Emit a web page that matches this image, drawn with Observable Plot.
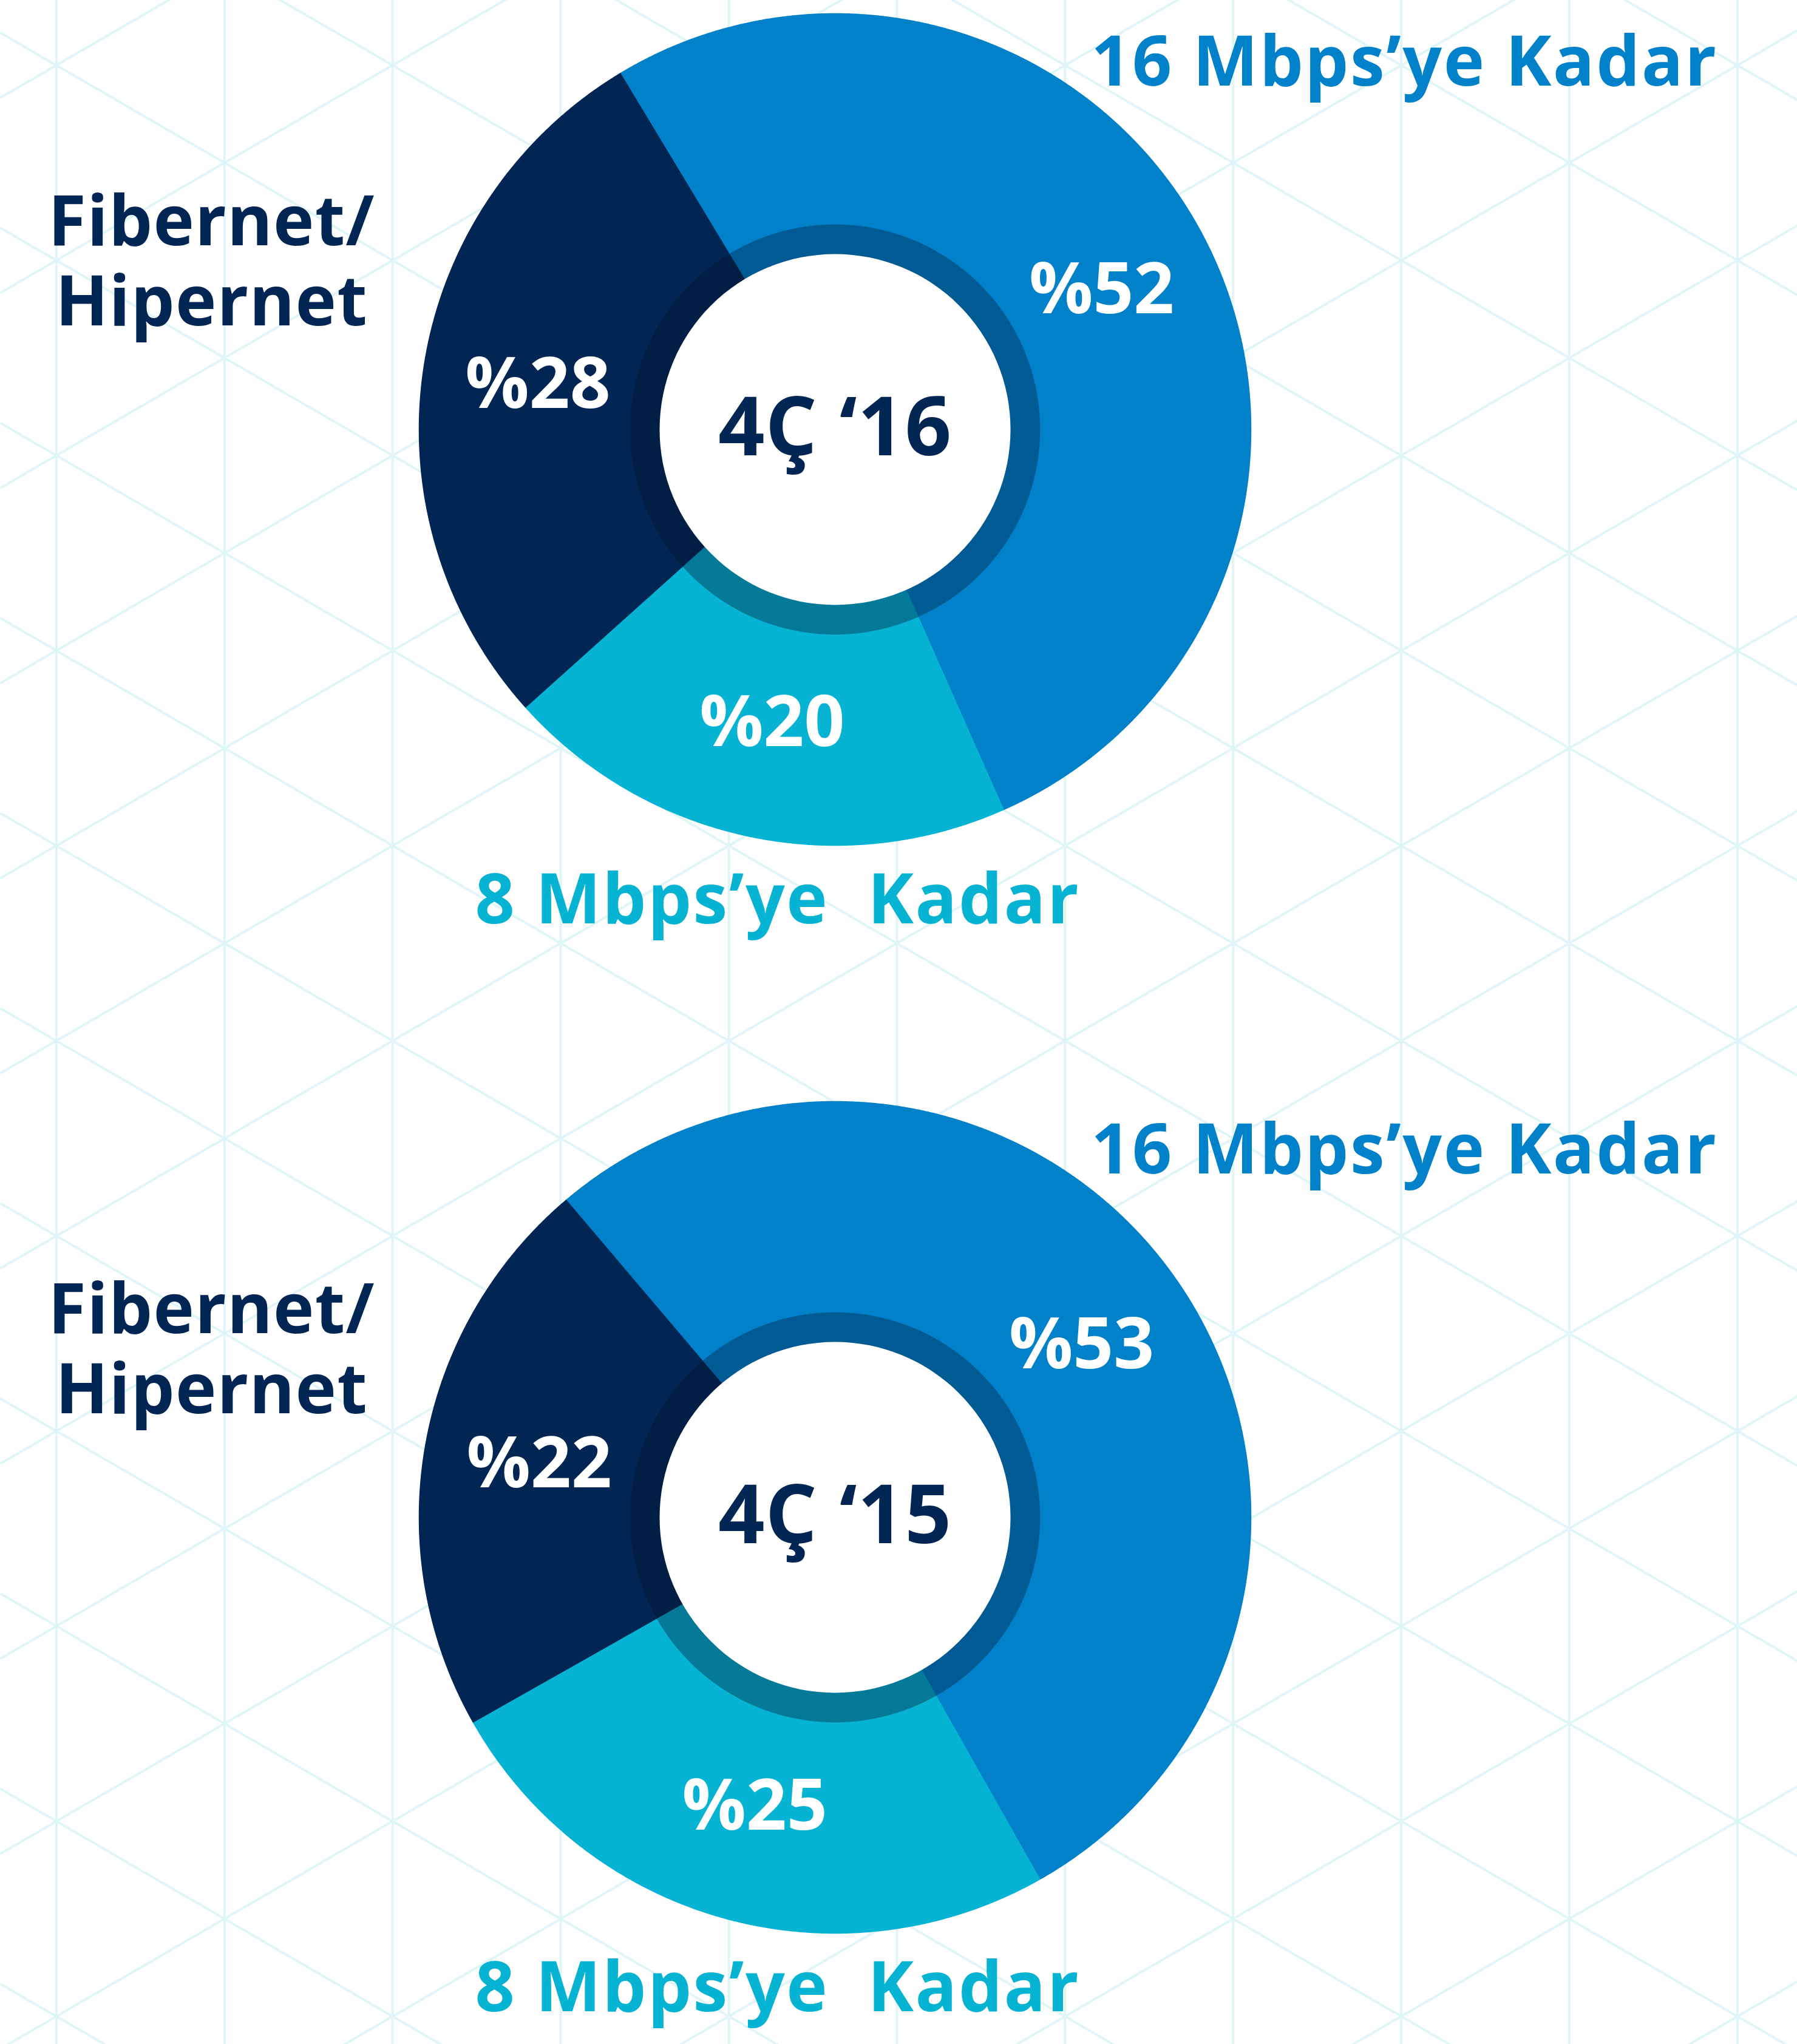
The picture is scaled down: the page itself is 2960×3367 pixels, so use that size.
<!DOCTYPE html>
<html>
<head>
<meta charset="utf-8">
<script src="https://cdn.jsdelivr.net/npm/d3@7"></script>
<script src="https://cdn.jsdelivr.net/npm/@observablehq/plot@0.6"></script>
<style>
  html, body { margin: 0; padding: 0; background: #ffffff; }
  #chart svg { display: block; }
  #chart g.cat text { letter-spacing: 2.5px; }
  #chart g.cat2 text { letter-spacing: 1.2px; }
  #chart g.ctr text { letter-spacing: 1px; }
</style>
</head>
<body>
<div id="chart"></div>
<script>
// ---- data ----
const periods = ["4Ç ‘16", "4Ç ‘15"];
const categories = ["16 Mbps’ye Kadar", "8 Mbps’ye  Kadar", "Fibernet/\nHipernet"];
const share2016 = [52, 20, 28];
const share2015 = [53, 25, 22];
const seriesByPeriod = [share2016, share2015];

// ---- style / layout ----
const W = 2960, H = 3367;
const sliceColors = ["#0081c9", "#06b3d3", "#022654"];
const innerColors = ["#005b94", "#047a98", "#011f45"];
const gridColor = "#e0f5f8";
const donutLayout = [
  {cx: 1375, cy: 707, startDeg: -31.1},
  {cx: 1375, cy: 2499, startDeg: -40.3}
];
const R = 685, ringR = 337, holeR = 289, labelR = 495;
const catLabelLayout = [
  {dx: 1454, dy: -567, anchor: "end", cls: "cat"},
  {dx: -593, dy: 813, anchor: "start", cls: "cat"},
  {dx: -1027, dy: -172, anchor: "middle", cls: "cat2"}
];
const font = "'Open Sans', 'Noto Sans', sans-serif";

// ---- background triangular grid ----
const gx0 = 92.4, gStep = 276.9, gy0 = 107, gPeriod = 321.4, gSlope = (gPeriod / 2) / gStep;
const gridXs = d3.range(gx0, W + 1, gStep);
const diagonals = [];
for (let k = -14; k <= 16; k++) {
  for (const s of [gSlope, -gSlope]) {
    diagonals.push({
      x1: 0, y1: gy0 + s * (0 - gx0) + k * gPeriod,
      x2: W, y2: gy0 + s * (W - gx0) + k * gPeriod
    });
  }
}

// ---- donut geometry built from the data ----
const wedges = [];
const pctLabels = [];
const centerLabels = [];
const catLabels = [];
periods.forEach((period, pi) => {
  const {cx, cy, startDeg} = donutLayout[pi];
  const a0 = startDeg * Math.PI / 180;
  const arcs = d3.pie().sort(null).startAngle(a0).endAngle(a0 + 2 * Math.PI)(seriesByPeriod[pi]);
  arcs.forEach((a, ci) => {
    for (const [layer, r, color] of [["outer", R, sliceColors[ci]], ["inner", ringR, innerColors[ci]]]) {
      const id = `${pi}-${ci}-${layer}`;
      wedges.push({id, layer, x: cx, y: cy, color});
      const n = Math.ceil((a.endAngle - a.startAngle) / (Math.PI / 720));
      for (let i = 0; i <= n; i++) {
        const t = a.startAngle + (a.endAngle - a.startAngle) * i / n;
        wedges.push({id, layer, x: cx + r * Math.sin(t), y: cy - r * Math.cos(t), color});
      }
    }
    const mid = (a.startAngle + a.endAngle) / 2;
    pctLabels.push({x: cx + labelR * Math.sin(mid), y: cy - labelR * Math.cos(mid), text: "%" + a.data});
    const L = catLabelLayout[ci];
    catLabels.push({x: cx + L.dx, y: cy + L.dy, text: categories[ci], color: sliceColors[ci], anchor: L.anchor, cls: L.cls});
  });
  centerLabels.push({x: cx, y: cy, text: period});
});

const chart = Plot.plot({
  width: W,
  height: H,
  margin: 0,
  x: {domain: [0, W], range: [0, W], axis: null},
  y: {domain: [0, H], range: [0, H], axis: null},
  color: {type: "identity"},
  style: {background: "#ffffff"},
  marks: [
    Plot.ruleX(gridXs, {stroke: gridColor, strokeWidth: 4}),
    Plot.link(diagonals, {x1: "x1", y1: "y1", x2: "x2", y2: "y2", stroke: gridColor, strokeWidth: 4, clip: true}),
    Plot.line(wedges.filter(d => d.layer === "outer"), {x: "x", y: "y", z: "id", fill: "color", stroke: "color", strokeWidth: 1.5, curve: "linear-closed"}),
    Plot.line(wedges.filter(d => d.layer === "inner"), {x: "x", y: "y", z: "id", fill: "color", stroke: "color", strokeWidth: 1.5, curve: "linear-closed"}),
    Plot.dot(donutLayout, {x: "cx", y: "cy", r: holeR, fill: "#ffffff", stroke: null}),
    Plot.text(pctLabels, {x: "x", y: "y", text: "text", fill: "#ffffff", fontSize: 117, fontWeight: 700, fontFamily: font, lineAnchor: "middle"}),
    Plot.text(centerLabels, {x: "x", y: "y", text: "text", fill: "#022654", fontSize: 134, fontWeight: 700, fontFamily: font, lineAnchor: "middle", className: "ctr"}),
    ...catLabels.map(d => Plot.text([d], {x: "x", y: "y", text: "text", fill: "color", fontSize: 114, fontWeight: 700, fontFamily: font, textAnchor: d.anchor, lineAnchor: "bottom", lineHeight: 1.15, className: d.cls}))
  ]
});
document.getElementById("chart").appendChild(chart);
</script>
</body>
</html>
